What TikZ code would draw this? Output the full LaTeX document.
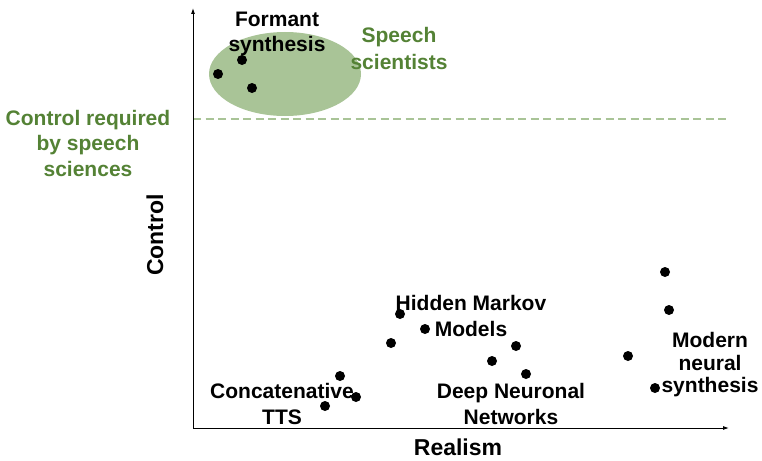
\documentclass[tikz,border=0pt]{standalone}
\usepackage{fontspec}
\setmainfont{Liberation Sans}
\usetikzlibrary{arrows.meta}
\definecolor{ovalgreen}{RGB}{169,196,151}
\definecolor{textgreen}{RGB}{84,130,53}
\begin{document}
\begin{tikzpicture}[x=1pt,y=-1pt,
  lbl/.style={font=\bfseries\fontsize{21}{25.5}\selectfont, align=center, inner sep=0pt},
  glbl/.style={lbl, text=textgreen},
  axlbl/.style={lbl, font=\bfseries\fontsize{23}{25}\selectfont},
  pt/.style={circle, fill=black, inner sep=0pt, minimum size=10pt}]
\useasboundingbox (0,0) rectangle (762,460);

% group of speech scientists
\fill[ovalgreen] (285,74) ellipse [x radius=76, y radius=42];

% threshold of control
\coordinate (thL) at (193,119);
\coordinate (thR) at (728,119);
\draw[ovalgreen, line width=1.6pt, dash pattern=on 8pt off 4.5pt] (thL) -- (thR);

% axes
\coordinate (O) at (193,428);
\coordinate (ytop) at (193,8);
\coordinate (xend) at (729,428);
\draw[line width=0.9pt, -{Latex[length=6pt,width=4pt]}] (O) -- (ytop);
\draw[line width=0.9pt, -{Latex[length=6pt,width=4pt]}] (O) -- (xend);

% axis titles
\node[axlbl] (xlab) at (458,447) {Realism};
\node[axlbl, rotate=90] (ylab) at (155,235) {Control};

% group labels
\node[lbl] (formant) at (277,34) {Formant\\synthesis};
\node[glbl, font=\bfseries\fontsize{21}{27}\selectfont] (sci) at (399,48) {Speech\\scientists};
\node[glbl] (req) at (88,143) {Control required\\by speech\\sciences};
\node[lbl] (hmm) at (471,316) {Hidden Markov\\Models};
\node[lbl] (concat) at (282,404) {Concatenative\\TTS};
\node[lbl] (dnn) at (511,404) {Deep Neuronal\\Networks};
\node[lbl, font=\bfseries\fontsize{21}{22.5}\selectfont] (modern) at (710,365) {Modern\\neural\\synthesis};

% systems
\node[pt] (f1) at (218,74) {};
\node[pt] (f2) at (242,60) {};
\node[pt] (f3) at (252,88) {};
\node[pt] (c1) at (340,376) {};
\node[pt] (c2) at (356,397) {};
\node[pt] (c3) at (325,406) {};
\node[pt] (h1) at (400,314) {};
\node[pt] (h2) at (391,343) {};
\node[pt] (h3) at (425,329) {};
\node[pt] (d1) at (492,361) {};
\node[pt] (d2) at (516,346) {};
\node[pt] (d3) at (526,374) {};
\node[pt] (m1) at (665,272) {};
\node[pt] (m2) at (669,310) {};
\node[pt] (m3) at (628,356) {};
\node[pt] (m4) at (655,388) {};
\end{tikzpicture}
\end{document}
